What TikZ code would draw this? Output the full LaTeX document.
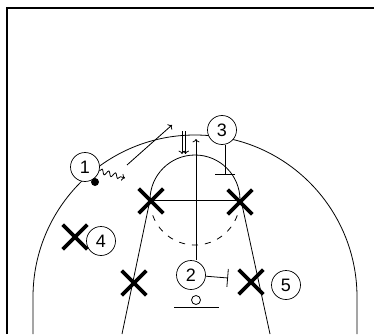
\documentclass[tikz,border=0pt]{standalone}
\usepackage{fontspec}
\setmainfont{Liberation Sans}
\usetikzlibrary{arrows.meta,shapes.misc,decorations.pathmorphing}

\begin{document}
\begin{tikzpicture}[x=1pt,y=-1pt,line width=0.8pt,
  player/.style={shape=circle,draw=black,fill=white,line width=0.7pt,minimum size=29pt,inner sep=0pt,font=\fontsize{18}{18}\selectfont},
  defender/.style={shape=cross out,draw=black,line width=3.6pt,minimum size=21pt,inner sep=0pt}]
\useasboundingbox (0,0) rectangle (374,334);
\draw[line width=1.5pt] (7,334) -- (7,8) -- (374,8);
\draw (33,334) -- (33,297) arc[start angle=180,end angle=360,radius=162] -- (357,334);
\draw (150,200) -- (122,334);
\draw (241,200) -- (270,334);
\draw (150,200) -- (240,200);
\draw (150,200) arc[start angle=180,end angle=360,radius=45];
\draw[dash pattern=on 6pt off 7pt] (195,200) ++(20:45) arc[start angle=20,end angle=160,radius=45];
\draw (196,300) circle[radius=4.5pt];
\draw (174,307) -- (219,307);

\node[player](p1) at (85,167) {1};
\node[player](p2) at (191,275) {2};
\node[player](p3) at (222,130) {3};
\node[player](p4) at (101,241) {4};
\node[player](p5) at (286,285) {5};

\node[defender](x1) at (151,201) {};
\node[defender](x2) at (240,202) {};
\node[defender](x3) at (75,237) {};
\node[defender](x4) at (134,283) {};
\node[defender](x5) at (251,282) {};

\fill (95,182) circle[radius=4pt];

\coordinate (cut) at (196,139);
\coordinate (s2) at (228,278);
\coordinate (s3) at (225,175);
\coordinate (d1) at (125,178);
\coordinate (pa) at (127,165);
\coordinate (pb) at (172,125);
\coordinate (h1) at (182,131);
\coordinate (h2) at (182,154);
\coordinate (h3) at (185.5,131);
\coordinate (h4) at (185.5,154);

\draw[->] (cut |- p2.north) -- (cut);
\draw[-{Bar[width=18pt]}] (p2) -- (s2);
\draw[-{Bar[width=20pt]}] (s3 |- p3.south) -- (s3);
\draw[->,decorate,decoration={snake,amplitude=2.5pt,segment length=7pt,post length=4pt}] (p1) -- (d1);
\draw[->] (pa) -- (pb);
\draw[->] (h1) -- (h2);
\draw[->] (h3) -- (h4);
\end{tikzpicture}
\end{document}
